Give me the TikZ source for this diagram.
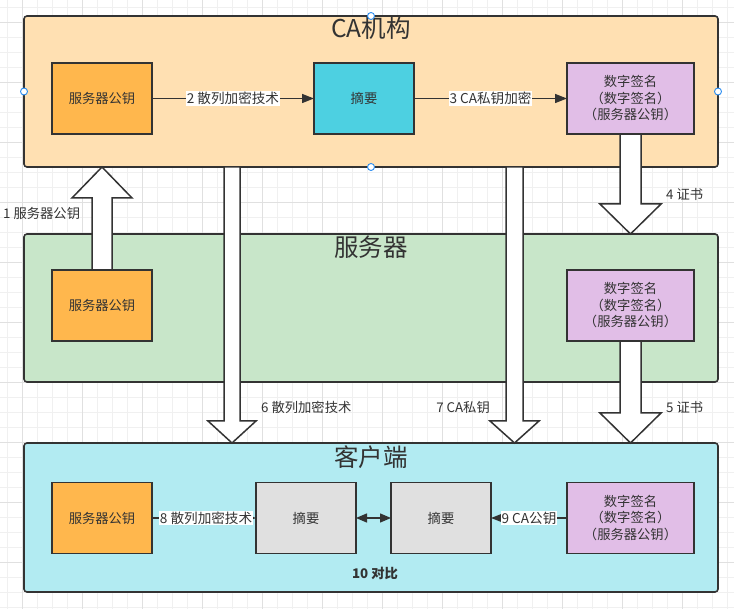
\documentclass[tikz,border=0pt]{standalone}
\usepackage{fontspec}
\setmainfont{Noto Sans CJK SC}
\usetikzlibrary{arrows.meta,calc}
\definecolor{caBg}{HTML}{FFE0B2}
\definecolor{srvBg}{HTML}{C8E6C9}
\definecolor{cliBg}{HTML}{B2EBF2}
\definecolor{keyC}{HTML}{FFB74D}
\definecolor{digC}{HTML}{4DD0E1}
\definecolor{sigC}{HTML}{E1BEE7}
\definecolor{grayC}{HTML}{E0E0E0}
\definecolor{ink}{HTML}{333333}
\definecolor{handleC}{HTML}{2A8CF0}
\definecolor{gridMinor}{HTML}{F0F0F0}
\definecolor{gridMajor}{HTML}{E0E0E0}
\pgfdeclarelayer{grid}
\pgfdeclarelayer{bg}
\pgfdeclarelayer{mid}
\pgfsetlayers{grid,bg,mid,main}
\newcommand\hollowarrow[5]{%
  \draw[bigarrow] let \p1=(#1), \p2=(#2) in
    ({\x1-#3pt},\y1) -- ({\x1-#3pt},{\y2+(#5pt)}) -- ({\x1-#4pt},{\y2+(#5pt)}) --
    (\x1,\y2) -- ({\x1+#4pt},{\y2+(#5pt)}) -- ({\x1+#3pt},{\y2+(#5pt)}) --
    ({\x1+#3pt},\y1) -- cycle;}
\tikzset{
  every node/.style={text=ink, font=\fontsize{13.3}{16.5}\selectfont},
  container/.style={draw=ink, line width=1.6pt, rounded corners=3pt, inner sep=0pt, outer sep=0pt, anchor=north west},
  boxstyle/.style={draw=ink, line width=1.6pt, inner sep=0pt, outer sep=0pt, minimum height=71, align=center},
  keybox/.style={boxstyle, fill=keyC, minimum width=100},
  digbox/.style={boxstyle, fill=digC, minimum width=100},
  graybox/.style={boxstyle, fill=grayC, minimum width=100},
  sigbox/.style={boxstyle, fill=sigC, minimum width=127},
  conn/.style={draw=ink, line width=1.4pt, -{Triangle[length=12pt,width=9pt]}},
  dconn/.style={draw=ink, line width=1.4pt, {Triangle[length=11pt,width=9pt]}-{Triangle[length=11pt,width=9pt]}},
  lbl/.style={fill=white, inner sep=1pt, font=\fontsize{13.6}{16}\selectfont},
  note/.style={inner sep=0pt},
  titlestyle/.style={font=\fontsize{24.5}{28}\selectfont},
  bigarrow/.style={draw=ink, fill=white, line width=1.5pt, line join=miter},
  handle/.style={draw=handleC, fill=white, line width=0.9pt},
  gridminor/.style={draw=gridMinor, line width=0.8pt},
  gridmajor/.style={draw=gridMajor, line width=0.8pt},
}
\begin{document}
\begin{tikzpicture}[x=1pt,y=-1pt]
\useasboundingbox (0,0) rectangle (734,609);
\begin{pgfonlayer}{grid}
  \fill[white] (0,0) rectangle (734,609);
  \foreach \i in {0,...,48} \draw[gridminor] ({7.3+15*\i},0) -- ({7.3+15*\i},609);
  \foreach \i in {0,...,40} \draw[gridminor] (0,{7.3+15*\i}) -- (734,{7.3+15*\i});
  \foreach \i in {0,...,12} \draw[gridmajor] ({22.3+60*\i},0) -- ({22.3+60*\i},609);
  \foreach \i in {0,...,10} \draw[gridmajor] (0,{22.3+60*\i}) -- (734,{22.3+60*\i});
\end{pgfonlayer}
\begin{pgfonlayer}{bg}
  \node[container, fill=caBg, minimum width=694, minimum height=151] (ca) at (24,16) {};
  \node[container, fill=srvBg, minimum width=694, minimum height=148] (srv) at (24,234) {};
  \node[container, fill=cliBg, minimum width=694, minimum height=149] (cli) at (24,443) {};
\end{pgfonlayer}
% titles
\node[titlestyle] (catitle) at (371,28) {CA机构};
\node[titlestyle] (srvtitle) at (371,247) {服务器};
\node[titlestyle] (clititle) at (371,457) {客户端};
% inner boxes
\node[keybox] (cakey) at (102,98.5) {服务器公钥};
\node[digbox] (cadig) at (364,98.5) {摘要};
\node[sigbox] (casig) at (630.5,98.5) {数字签名\\（数字签名）\\（服务器公钥）};
\node[keybox] (skey) at (102,305.5) {服务器公钥};
\node[sigbox] (ssig) at (630.5,305.5) {数字签名\\（数字签名）\\（服务器公钥）};
\node[keybox] (ckey) at (102,518) {服务器公钥};
\node[graybox] (cd1) at (306,518) {摘要};
\node[graybox] (cd2) at (441,518) {摘要};
\node[sigbox] (csig) at (630.5,518) {数字签名\\（数字签名）\\（服务器公钥）};
% big hollow arrows
\coordinate (x2) at (232,0);
\coordinate (x3) at (514.5,0);
\coordinate (a1e) at (skey.north |- ca.south);
\coordinate (a2s) at (x2 |- ca.south);
\coordinate (a2e) at (x2 |- cli.north);
\coordinate (a3s) at (x3 |- ca.south);
\coordinate (a3e) at (x3 |- cli.north);
\coordinate (a4e) at (casig.south |- srv.north);
\coordinate (a5e) at (ssig.south |- cli.north);
\begin{pgfonlayer}{mid}
  \hollowarrow{skey.north}{a1e}{10}{30}{-31}
  \hollowarrow{a2s}{a2e}{8}{24}{22}
  \hollowarrow{a3s}{a3e}{8.5}{24.5}{22}
  \hollowarrow{casig.south}{a4e}{10.5}{30.5}{30}
  \hollowarrow{ssig.south}{a5e}{10.5}{30.5}{30}
\end{pgfonlayer}
% big arrow labels
\node[note, anchor=west] (l1) at (3,213) {1 服务器公钥};
\node[note, anchor=west] (l6) at (261,407) {6 散列加密技术};
\node[note, anchor=east] (l7) at (490,407) {7 CA私钥};
\node[note, anchor=west] (l4) at (666,194) {4 证书};
\node[note, anchor=west] (l5) at (666,407) {5 证书};
% small connectors
\draw[conn] (cakey.east) -- (cadig.west) node[lbl, midway] (l2) {2 散列加密技术};
\draw[conn] (cadig.east) -- (casig.west) node[lbl, midway] (l3) {3 CA私钥加密};
\draw[conn] (ckey.east) -- (cd1.west) node[lbl, pos=0.52] (l8) {8 散列加密技术};
\draw[conn] (csig.west) -- (cd2.east) node[lbl, midway] (l9) {9 CA公钥};
\draw[dconn] (cd1.east) -- (cd2.west);
\node[font=\bfseries\fontsize{13.3}{16}\selectfont] (cmp) at (375,573) {10 对比};
% selection handles
\foreach \a in {west,east,north,south} \draw[handle] (ca.\a) circle (3.5pt);
\end{tikzpicture}
\end{document}
